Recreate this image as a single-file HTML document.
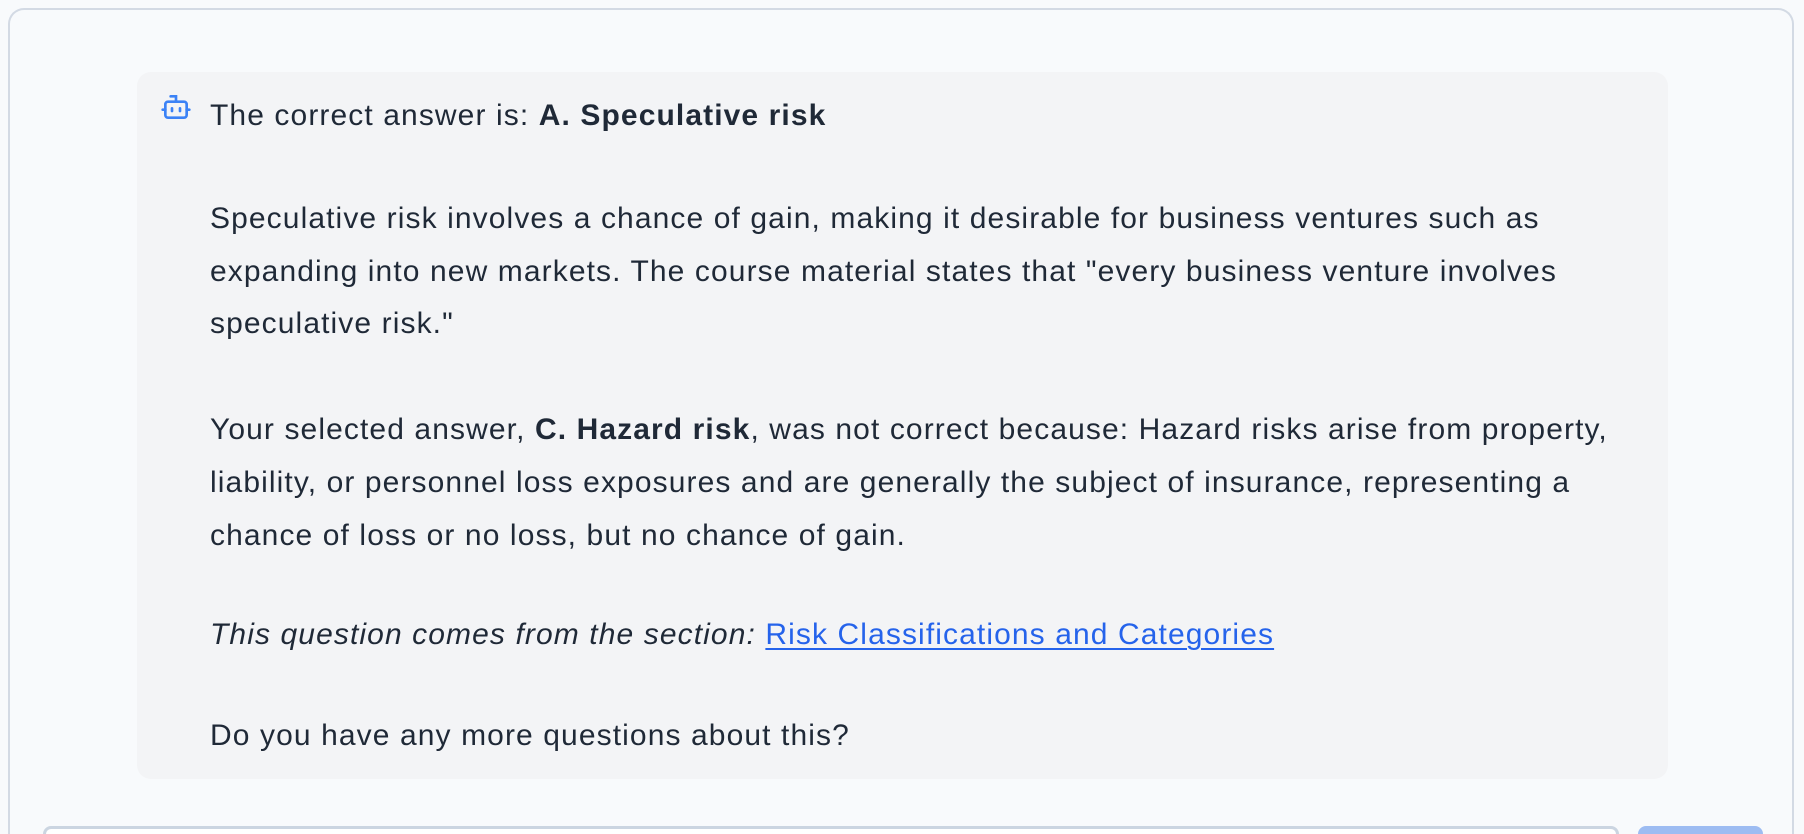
<!DOCTYPE html>
<html><head><meta charset="utf-8"><style>
html,body{margin:0;padding:0;width:1804px;height:834px;overflow:hidden;background:#f8fafc;font-family:"Liberation Sans",Arial,sans-serif;}
#wrap{position:relative;width:1804px;height:834px;overflow:hidden;}
#card{position:absolute;left:8px;top:8px;width:1786px;height:826px;border:2px solid #d3dae4;border-bottom:none;border-radius:16px 16px 0 0;background:#f8fafc;box-sizing:border-box;}
#msg{position:absolute;left:137px;top:72px;width:1531px;height:707px;background:#f3f4f6;border-radius:14px;}
.l{position:absolute;left:210px;font-size:30px;letter-spacing:1.1px;color:#1f2937;white-space:nowrap;line-height:36px;}
a{color:#2563eb;text-decoration:underline;text-decoration-thickness:2px;text-underline-offset:4px;}
#input{position:absolute;left:43px;top:826px;width:1576px;height:8px;border:3px solid #cbd5e1;border-bottom:none;border-radius:12px 12px 0 0;background:#fff;box-sizing:border-box;}
#send{position:absolute;left:1638px;top:826px;width:125px;height:8px;background:#9dbcf2;border-radius:12px 12px 0 0;}
</style></head><body>
<div id="wrap">
<div id="card"></div>
<div id="msg"></div>
<svg style="position:absolute;left:160px;top:91px" width="32" height="32" viewBox="0 0 24 24" fill="none" stroke="#3b82f6" stroke-width="2" stroke-linecap="round"><path d="M12 8V4H8"/><rect x="4" y="8" width="16" height="12" rx="2"/><path d="M2 14h2M20 14h2M15 13v2M9 13v2"/></svg>
<div class="l" style="top:98px">The correct answer is: <b>A. Speculative risk</b></div>
<div class="l" style="top:201px">Speculative risk involves a chance of gain, making it desirable for business ventures such as</div>
<div class="l" style="top:254px">expanding into new markets. The course material states that "every business venture involves</div>
<div class="l" style="top:306px">speculative risk."</div>
<div class="l" style="top:412px">Your selected answer, <b>C. Hazard risk</b>, was not correct because: Hazard risks arise from property,</div>
<div class="l" style="top:465px">liability, or personnel loss exposures and are generally the subject of insurance, representing a</div>
<div class="l" style="top:518px">chance of loss or no loss, but no chance of gain.</div>
<div class="l" style="top:617px"><i>This question comes from the section:</i> <a href="#">Risk Classifications and Categories</a></div>
<div class="l" style="top:718px">Do you have any more questions about this?</div>
<div id="input"></div>
<div id="send"></div>
</div>
</body></html>
